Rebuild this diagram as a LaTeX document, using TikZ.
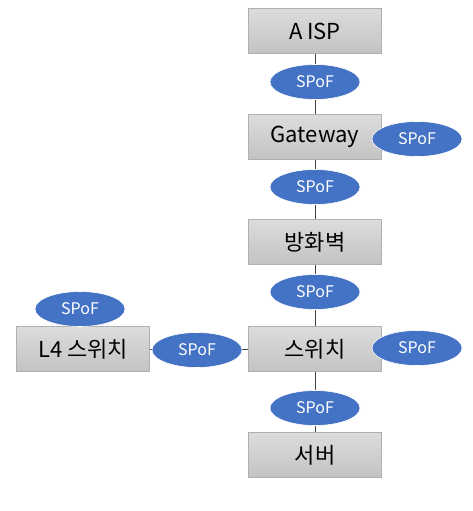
\documentclass[tikz,border=0pt]{standalone}
\usepackage{fontspec}
\setmainfont{Noto Sans CJK KR}
\usetikzlibrary{shapes.geometric}
\definecolor{spofblue}{HTML}{4472C4}
\definecolor{boxedge}{HTML}{B0B0B0}
\definecolor{boxtop}{HTML}{DCDCDC}
\definecolor{boxbot}{HTML}{C3C3C3}
\definecolor{linkgray}{HTML}{404040}
\begin{document}
\begin{tikzpicture}[x=1pt,y=-1pt,
  devbox/.style={draw=boxedge, line width=0.8pt, top color=boxtop, bottom color=boxbot,
    minimum width=133pt, minimum height=45pt, inner sep=0pt, font=\fontsize{22}{26}\selectfont},
  spof/.style={ellipse, fill=spofblue, draw=white, line width=0.6pt, minimum width=90pt, minimum height=35pt,
    inner sep=0pt, text=white, font=\fontsize{16}{19}\selectfont},
  link/.style={draw=linkgray, line width=0.8pt}]
\useasboundingbox (0,0) rectangle (472,511);
% devices
\node[devbox] (isp) at (315,31) {A ISP};
\node[devbox] (gw) at (315,137) {Gateway};
\node[devbox] (fw) at (315,242) {방화벽};
\node[devbox] (sw) at (315,349) {스위치};
\node[devbox] (srv) at (315,455) {서버};
\node[devbox] (l4) at (83,349) {L4 스위치};
% links
\draw[link] (isp) -- (gw);
\draw[link] (gw) -- (fw);
\draw[link] (fw) -- (sw);
\draw[link] (sw) -- (srv);
\draw[link] (l4) -- (sw);
% SPoF markers
\node[spof] (s1) at (315,82) {SPoF};
\node[spof] (s2) at (315,187) {SPoF};
\node[spof] (s3) at (315,292) {SPoF};
\node[spof] (s4) at (315,408) {SPoF};
\node[spof] (sgw) at (417,139) {SPoF};
\node[spof] (ssw) at (417,348) {SPoF};
\node[spof] (sl4link) at (197,350) {SPoF};
\node[spof] (sl4) at (80,309) {SPoF};
\end{tikzpicture}
\end{document}
